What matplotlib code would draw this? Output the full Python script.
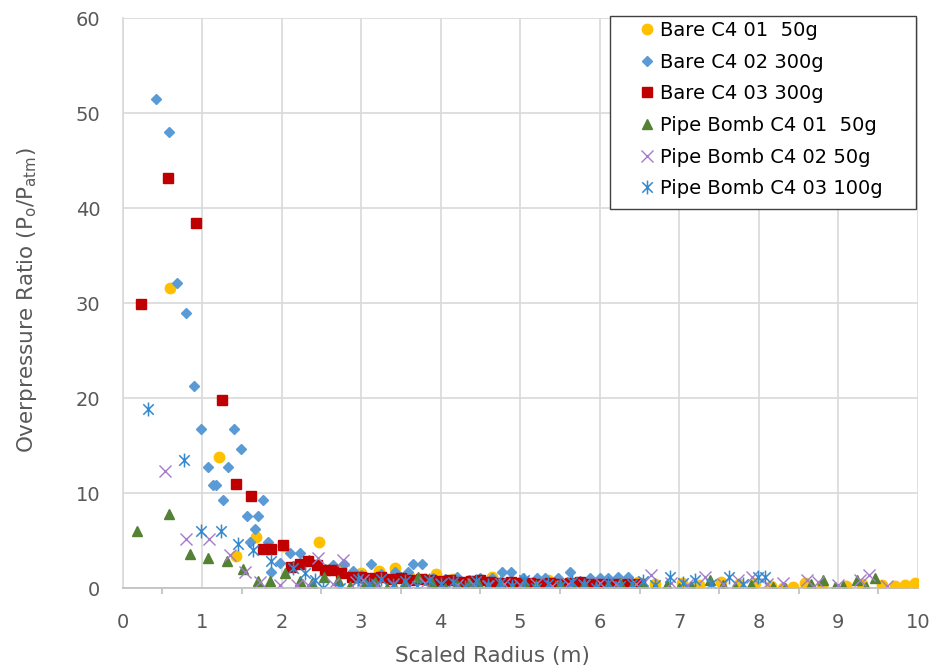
import matplotlib.pyplot as plt
from matplotlib.path import Path
from matplotlib.patches import Rectangle
from matplotlib.ticker import MultipleLocator

# Bare C4 01 50g
bare01_x = [0.59, 1.21, 1.43, 1.68, 2.02, 2.47, 2.75, 3.0, 3.22, 3.42,
            3.6, 3.8, 3.94, 4.15, 4.4, 4.65, 4.9, 5.1, 5.35, 5.6,
            5.85, 6.1, 6.3, 6.48, 6.7, 7.03, 7.25, 7.53, 7.75, 7.95,
            8.15, 8.31, 8.43, 8.58, 8.8, 9.1, 9.3, 9.55, 9.71, 9.84, 9.97]
bare01_y = [31.6, 13.8, 3.4, 5.4, 4.4, 4.9, 2.0, 1.6, 1.8, 2.1,
            1.3, 1.0, 1.5, 1.0, 0.8, 1.2, 0.7, 0.6, 0.9, 0.5,
            0.6, 0.7, 0.5, 0.7, 0.4, 0.6, 0.3, 0.7, 0.4, 0.6,
            0.2, 0.0, 0.1, 0.6, 0.3, 0.2, 0.4, 0.3, 0.2, 0.3, 0.6]

# Bare C4 02 300g
bare02_x = [0.42, 0.585, 0.69, 0.80, 0.90, 0.98, 1.07, 1.14, 1.18, 1.26,
            1.32, 1.40, 1.49, 1.56, 1.60, 1.66, 1.70, 1.77, 1.83, 1.87,
            1.98, 2.10, 2.14, 2.23, 2.35, 2.45, 2.55, 2.65, 2.78, 2.9,
            3.0, 3.12, 3.25, 3.42, 3.5, 3.59, 3.65, 3.76, 3.9, 4.05,
            4.2, 4.35, 4.5, 4.64, 4.77, 4.89, 5.04, 5.21, 5.31, 5.48,
            5.62, 5.75, 5.88, 6.0, 6.1, 6.23, 6.36]
bare02_y = [51.5, 48.0, 32.1, 29.0, 21.3, 16.8, 12.8, 10.9, 10.9, 9.3,
            12.8, 16.8, 14.7, 7.6, 4.9, 6.2, 7.6, 9.3, 4.9, 1.7,
            2.7, 3.7, 2.3, 3.7, 3.0, 2.5, 2.0, 2.4, 2.6, 1.8,
            1.4, 2.6, 1.5, 1.7, 1.2, 1.7, 2.6, 2.6, 1.1, 1.0,
            1.2, 0.9, 1.1, 1.05, 1.7, 1.75, 1.05, 1.05, 1.05, 1.05,
            1.7, 0.8, 1.05, 1.05, 1.05, 1.2, 1.2]

# Bare C4 03 300g
bare03_x = [0.225, 0.57, 0.92, 1.25, 1.42, 1.62, 1.77, 1.87, 2.02, 2.12,
            2.23, 2.33, 2.44, 2.54, 2.65, 2.75, 2.88, 3.0, 3.12, 3.25,
            3.38, 3.5, 3.62, 3.75, 3.88, 4.0, 4.12, 4.25, 4.38, 4.5,
            4.62, 4.75, 4.88, 5.0, 5.12, 5.25, 5.38, 5.5, 5.62, 5.75,
            5.88, 6.0, 6.12, 6.25, 6.38, 6.5]
bare03_y = [29.9, 43.2, 38.5, 19.8, 11.0, 9.7, 4.1, 4.1, 4.6, 2.2,
            2.6, 2.9, 2.5, 1.9, 1.9, 1.6, 1.2, 1.2, 1.1, 1.2,
            1.0, 1.1, 0.9, 1.0, 0.9, 0.8, 0.9, 0.7, 0.8, 0.9,
            0.7, 0.6, 0.7, 0.6, 0.6, 0.5, 0.6, 0.5, 0.6, 0.7,
            0.5, 0.5, 0.4, 0.4, 0.4, 0.5]

# Pipe Bomb C4 01 50g
pipe01_x = [0.18, 0.58, 0.85, 1.07, 1.31, 1.52, 1.70, 1.85, 2.04, 2.23,
            2.38, 2.53, 2.71, 2.86, 3.05, 3.17, 3.32, 3.42, 3.55, 3.72,
            3.89, 4.05, 4.2, 4.35, 4.47, 4.6, 4.75, 4.9, 5.05, 5.2,
            5.35, 5.5, 5.65, 5.8, 5.95, 6.1, 6.25, 6.4, 6.55, 6.7,
            6.85, 7.0, 7.15, 7.39, 7.55, 7.7, 7.9, 8.18, 8.33, 8.66,
            8.81, 8.96, 9.06, 9.23, 9.35, 9.46]
pipe01_y = [6.0, 7.8, 3.6, 3.2, 2.9, 2.0, 0.8, 0.8, 1.6, 0.8,
            0.6, 1.2, 0.9, 0.2, 0.6, 0.7, 0.0, 0.0, 0.6, 1.2,
            0.6, 0.0, 0.3, 0.6, 0.6, 0.2, 0.5, 0.1, 0.6, 0.3,
            0.0, 0.4, 0.2, 0.5, 0.1, 0.3, 0.6, 0.2, 0.4, 0.1,
            0.3, 0.0, 0.2, 0.9, 0.3, 0.1, 0.3, 0.1, 0.0, 0.4,
            0.9, 0.1, 0.2, 0.9, 0.1, 1.1]

# Pipe Bomb C4 02 50g
pipe02_x = [0.53, 0.80, 1.08, 1.35, 1.54, 1.73, 1.98, 2.19, 2.33, 2.46,
            2.65, 2.77, 2.94, 3.02, 3.2, 3.4, 3.6, 3.8, 4.0, 4.2,
            4.4, 4.6, 4.8, 5.0, 5.2, 5.4, 5.6, 5.8, 6.0, 6.2,
            6.45, 6.65, 6.9, 7.1, 7.32, 7.55, 7.74, 7.91, 8.1, 8.3,
            8.6, 8.75, 9.0, 9.27, 9.38, 9.61]
pipe02_y = [12.3, 5.2, 5.2, 3.5, 1.75, 0.7, 0.35, 0.35, 0.35, 3.2,
            0.5, 3.0, 0.7, 0.9, 0.3, 0.5, 0.2, 0.6, 0.4, 0.3,
            0.5, 0.2, 0.4, 0.3, 0.5, 0.2, 0.4, 0.3, 0.6, 0.4,
            0.5, 1.4, 0.6, 0.3, 1.2, 0.5, 0.9, 1.2, 0.4, 0.6,
            0.9, 0.7, 0.3, 0.9, 1.4, 0.2]

# Pipe Bomb C4 03 100g
pipe03_x = [0.32, 0.77, 0.98, 1.24, 1.45, 1.64, 1.87, 2.14, 2.29, 2.42,
            2.52, 2.73, 2.96, 3.1, 3.25, 3.4, 3.55, 3.7, 3.85, 4.0,
            4.15, 4.3, 4.45, 4.6, 4.75, 4.9, 5.05, 5.2, 5.35, 5.5,
            5.65, 5.8, 5.95, 6.1, 6.25, 6.4, 6.55, 6.7, 6.88, 7.05,
            7.2, 7.4, 7.62, 7.8, 7.99, 8.08]
pipe03_y = [18.9, 13.5, 6.0, 6.0, 4.7, 4.0, 2.9, 2.1, 1.6, 0.9,
            0.0, 0.0, 1.0, 0.5, 1.0, 0.3, 0.8, 0.2, 0.9, 0.4,
            0.7, 0.1, 0.8, 0.3, 0.6, 0.2, 0.9, 0.0, 0.5, 0.2,
            0.7, 0.3, 0.0, 0.6, 0.2, 0.5, 0.8, 0.3, 1.2, 0.6,
            0.9, 0.4, 1.2, 0.5, 1.2, 1.2]

plt.rcParams['font.family'] = ['DejaVu Sans']
text_col = '#595959'
grid_col = '#D9D9D9'
W, H = 936, 670

# Excel style "star": an X with a vertical bar through it
star = Path([(0, -1), (0, 1), (-0.75, -0.75), (0.75, 0.75), (-0.75, 0.75), (0.75, -0.75)],
            [Path.MOVETO, Path.LINETO, Path.MOVETO, Path.LINETO, Path.MOVETO, Path.LINETO])

fig = plt.figure(figsize=(W / 100, H / 100), dpi=100)
ax = fig.add_axes([0.131, 0.122, 0.8496, 0.8506])

series = [
    (bare01_x, bare01_y, 'Bare C4 01  50g', dict(marker='o', ms=7.5, color='#FFC000', mec='#FFC000')),
    (bare02_x, bare02_y, 'Bare C4 02 300g', dict(marker='D', ms=5.5, color='#5B9BD5', mec='#5B9BD5')),
    (bare03_x, bare03_y, 'Bare C4 03 300g', dict(marker='s', ms=7, color='#C00000', mec='#C00000')),
    (pipe01_x, pipe01_y, 'Pipe Bomb C4 01  50g', dict(marker='^', ms=7.5, color='#548235', mec='#548235')),
    (pipe02_x, pipe02_y, 'Pipe Bomb C4 02 50g', dict(marker='x', ms=8.5, mew=1.0, color='#A47CC9')),
    (pipe03_x, pipe03_y, 'Pipe Bomb C4 03 100g', dict(marker=star, ms=10, mew=1.1, mfc='none',
                                                      color='#3389D0', mec='#3389D0')),
]
for x, y, name, style in series:
    ax.plot(x, y, linestyle='none', label=name, **style)

ax.set_xlim(0, 10)
ax.set_ylim(0, 60)
ax.xaxis.set_major_locator(MultipleLocator(1))
ax.xaxis.set_minor_locator(MultipleLocator(0.5))
ax.yaxis.set_major_locator(MultipleLocator(10))
ax.grid(True, which='major', color=grid_col, linewidth=1.2)
ax.set_axisbelow(True)

for side in ['top', 'right']:
    ax.spines[side].set_visible(False)
ax.spines['left'].set_color(grid_col)
ax.spines['bottom'].set_color('#BFBFBF')
ax.spines['left'].set_linewidth(1.2)
ax.spines['bottom'].set_linewidth(1.2)

ax.tick_params(axis='x', which='major', length=0, pad=18, labelsize=14, labelcolor=text_col)
ax.tick_params(axis='x', which='minor', length=4, color='#BFBFBF', width=1.2)
ax.tick_params(axis='y', which='major', length=0, pad=16, labelsize=14, labelcolor=text_col)

ax.set_xlabel('Scaled Radius (m)', fontsize=15.5, color=text_col)
ax.set_ylabel(r'Overpressure Ratio (P$_\mathregular{o}$/P$_\mathregular{atm}$)',
              fontsize=15.5, color=text_col)
ax.xaxis.set_label_coords((493 - 122.8) / 795, -0.102)
ax.yaxis.set_label_coords(-0.105, 0.505)

# legend box with Excel's wide side padding
fig.patches.append(Rectangle((610 / W, 1 - 209 / H), 306 / W, 193 / H,
                             transform=fig.transFigure, facecolor='white',
                             edgecolor='#404040', linewidth=1.0, zorder=3))
leg = fig.legend(loc='upper left', bbox_to_anchor=(636 / W, 1 - 21 / H),
                 frameon=False, fontsize=14, labelspacing=0.65,
                 handlelength=1.1, handletextpad=0.15, borderpad=0, borderaxespad=0)
leg.set_zorder(4)

plt.savefig('out.png', dpi=100)
